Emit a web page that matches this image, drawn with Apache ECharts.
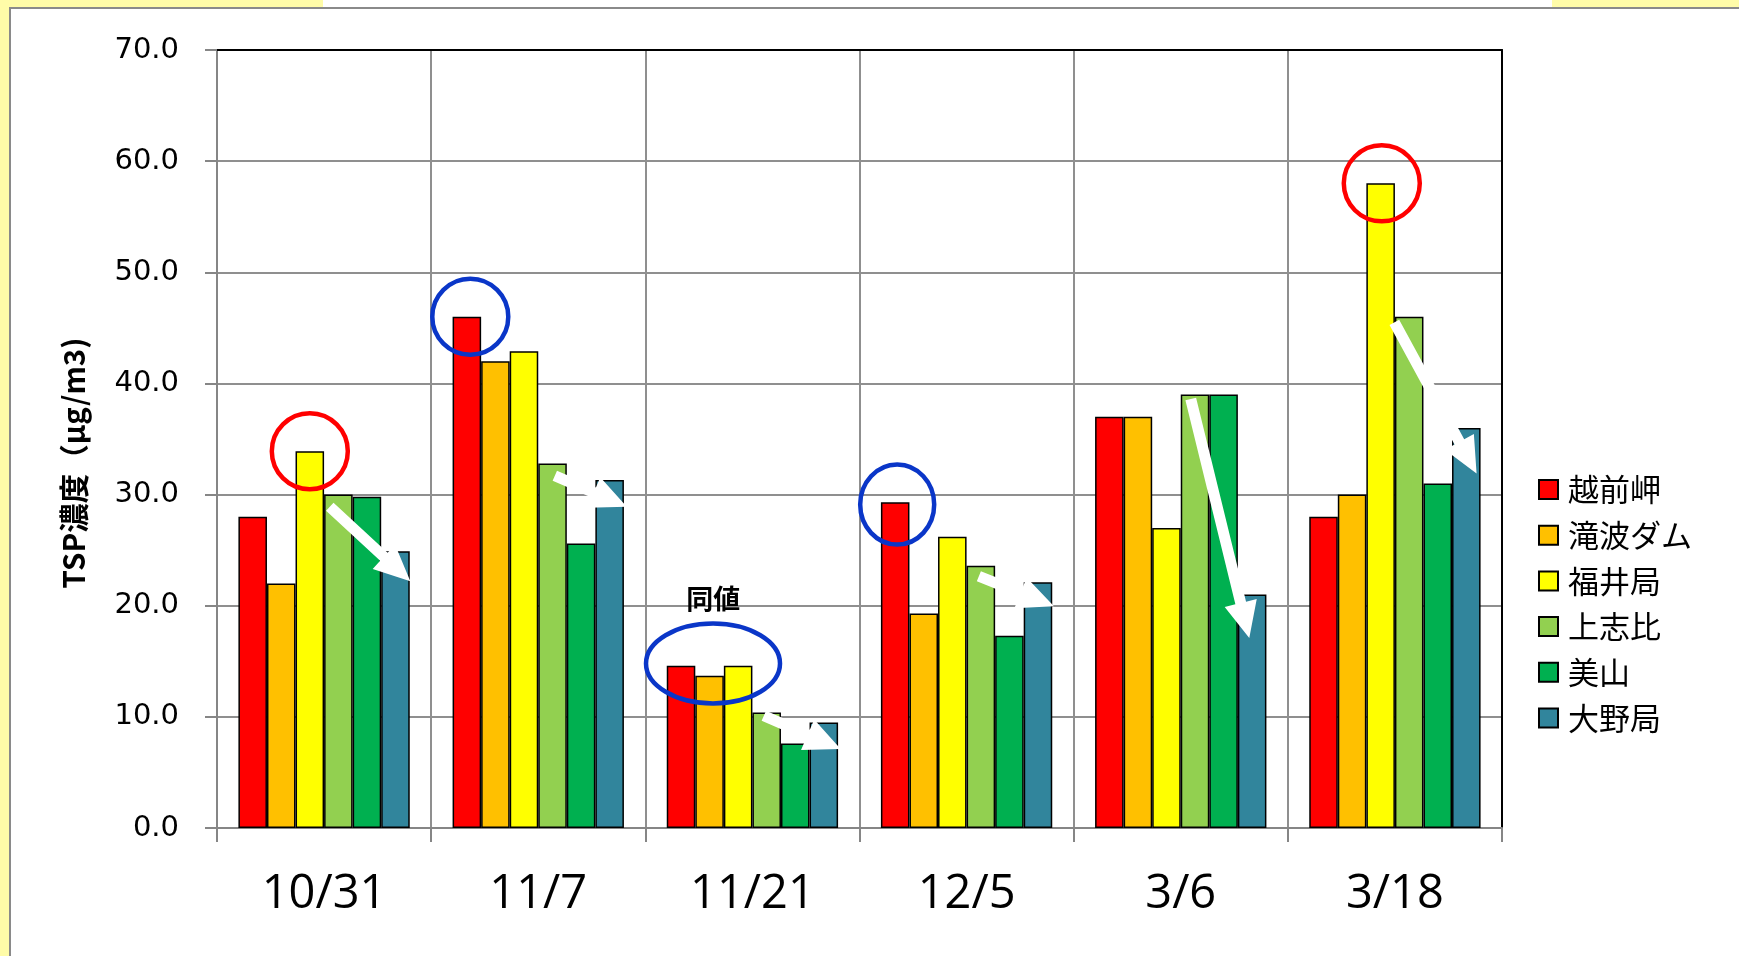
<!DOCTYPE html>
<html>
<head>
<meta charset="utf-8">
<script src="https://cdn.jsdelivr.net/npm/echarts@6/dist/echarts.min.js"></script>
<style>
  html, body { margin: 0; padding: 0; background: #ffffff; }
  #chart { width: 1739px; height: 956px; }
</style>
</head>
<body>
<div id="chart"></div>
<script>
// Sampling dates (category axis)
const dates = ['10/31', '11/7', '11/21', '12/5', '3/6', '3/18'];

// Monitoring stations (series names)
const stations = ['越前岬', '滝波ダム', '福井局', '上志比', '美山', '大野局'];

// TSP concentration per station, one value per date (µg/m3)
const echizenMisaki = [28.0, 46.0, 14.6, 29.3, 37.0, 28.0];
const takinamiDam   = [22.0, 42.0, 13.7, 19.3, 37.0, 30.0];
const fukuiKyoku    = [33.9, 42.9, 14.6, 26.2, 27.0, 58.0];
const kamishihi     = [30.0, 32.8, 10.4, 23.6, 39.0, 46.0];
const miyama        = [29.8, 25.6,  7.6, 17.3, 39.0, 31.0];
const onoKyoku      = [24.9, 31.3,  9.5, 22.1, 21.0, 36.0];

const stationValues = [echizenMisaki, takinamiDam, fukuiKyoku, kamishihi, miyama, onoKyoku];

// Value axis range
const yMin = 0;
const yMax = 70;
const yStep = 10;

const yAxisTitle = 'TSP濃度（μg/m3)';
const sameValueNote = '同値';

// Station colours
const stationColors = ['#FF0000', '#FFC000', '#FFFF00', '#92D050', '#00B050', '#31859C'];

// Highlight rings: [date index, bar slot (0..6 across the group), value, rx, ry, colour]
const rings = [
  [0, 2.50, 33.9, 38, 38, '#FF0000'],
  [1, 0.62, 46.0, 38, 38, '#0A36C8'],
  [2, 1.62, 14.8, 67, 40, '#0A36C8'],
  [3, 0.57, 29.1, 37, 40, '#0A36C8'],
  [5, 2.54, 58.0, 38, 38, '#FF0000']
];

// Trend arrows: [date index, tail slot, tail value, tip slot, tip value]
const arrows = [
  [0, 3.20, 28.9, 6.02, 22.2],
  [1, 3.58, 31.7, 6.10, 28.9],
  [2, 3.40, 10.1, 6.09, 7.1],
  [3, 3.43, 22.65, 6.06, 19.95],
  [4, 3.35, 38.6, 5.40, 17.1],
  [5, 2.98, 45.5, 5.86, 31.9]
];

// Note placed above the 11/21 group: [date index, slot, value]
const notePos = [2, 1.63, 20.6];

const chart = echarts.init(document.getElementById('chart'), null, { renderer: 'canvas' });

const gridSpec = { left: 217, right: 237, top: 50, bottom: 128 };
const barGroupFrac = 0.8;

const series = stations.map((name, i) => ({
  name: name,
  type: 'bar',
  data: stationValues[i],
  barGap: '0%',
  barCategoryGap: '20%',
  itemStyle: {
    color: stationColors[i],
    borderColor: '#000000',
    borderWidth: 1.5
  },
  emphasis: { disabled: true },
  z: 3
}));

const frameGraphics = [
  { type: 'rect', shape: { x: 0, y: 0, width: 9, height: 956 }, style: { fill: '#FFFCA8' }, z: 1, silent: true },
  { type: 'rect', shape: { x: 0, y: 0, width: 323, height: 7 }, style: { fill: '#FFFCA8' }, z: 1, silent: true },
  { type: 'rect', shape: { x: 1552, y: 0, width: 187, height: 7 }, style: { fill: '#FFFCA8' }, z: 1, silent: true },
  { type: 'line', shape: { x1: 9, y1: 8, x2: 1739, y2: 8 }, style: { stroke: '#8A8A8A', lineWidth: 2 }, z: 2, silent: true },
  { type: 'line', shape: { x1: 10, y1: 8, x2: 10, y2: 956 }, style: { stroke: '#8A8A8A', lineWidth: 2 }, z: 2, silent: true }
];

chart.setOption({
  animation: false,
  backgroundColor: '#ffffff',
  textStyle: { fontFamily: 'Noto Sans CJK JP' },
  grid: gridSpec,
  legend: {
    orient: 'vertical',
    left: 1533,
    top: 469,
    itemWidth: 19,
    itemHeight: 19,
    itemGap: 14.7,
    icon: 'rect',
    data: stations,
    textStyle: {
      fontFamily: 'Noto Sans CJK JP',
      fontSize: 31,
      color: '#000000',
      lineHeight: 31,
      padding: [0, 0, 0, 5]
    }
  },
  xAxis: [
    {
      type: 'category',
      data: dates,
      axisLine: { show: true, lineStyle: { color: '#868686', width: 2 } },
      axisTick: { show: true, length: 14, lineStyle: { color: '#868686', width: 2 } },
      splitLine: { show: true, lineStyle: { color: '#8F8F8F', width: 2 } },
      axisLabel: {
        margin: 43,
        fontFamily: 'Open Sans',
        fontSize: 47,
        color: '#000000'
      }
    },
    {
      type: 'category',
      position: 'top',
      data: dates,
      axisLine: { show: true, onZero: false, lineStyle: { color: '#000000', width: 2 } },
      axisTick: { show: false },
      axisLabel: { show: false },
      splitLine: { show: false }
    }
  ],
  yAxis: [
    {
      type: 'value',
      min: yMin,
      max: yMax,
      interval: yStep,
      name: yAxisTitle,
      nameLocation: 'middle',
      nameRotate: 90,
      nameGap: 128,
      nameTextStyle: {
        fontFamily: 'Noto Sans CJK JP',
        fontWeight: 'bold',
        fontSize: 29.5,
        color: '#000000',
        padding: [0, 48, 0, 0]
      },
      axisLine: { show: true, lineStyle: { color: '#868686', width: 2 } },
      axisTick: { show: true, length: 12, lineStyle: { color: '#868686', width: 2 } },
      splitLine: { show: true, lineStyle: { color: '#8F8F8F', width: 2 } },
      axisLabel: {
        margin: 38,
        fontFamily: 'DejaVu Sans',
        fontSize: 29,
        color: '#000000',
        formatter: v => v.toFixed(1)
      }
    },
    {
      type: 'value',
      position: 'right',
      min: yMin,
      max: yMax,
      interval: yStep,
      axisLine: { show: true, onZero: false, lineStyle: { color: '#000000', width: 2 } },
      axisTick: { show: false },
      axisLabel: { show: false },
      splitLine: { show: false }
    }
  ],
  series: series,
  graphic: frameGraphics
});

// Position of a point inside a date group: slot 0 is the left edge of the first bar,
// slot 6 the right edge of the last bar.
function slotPoint(catIndex, slot, value) {
  const cx = chart.convertToPixel({ xAxisIndex: 0 }, catIndex);
  const y = chart.convertToPixel({ yAxisIndex: 0 }, value);
  const x0 = chart.convertToPixel({ xAxisIndex: 0 }, 0);
  const x1 = chart.convertToPixel({ xAxisIndex: 0 }, 1);
  const band = x1 - x0;
  const barW = band * barGroupFrac / stations.length;
  const left = cx - band * barGroupFrac / 2;
  return [left + slot * barW, y];
}

function arrowPolygon(tail, tip, shaftW, headW, headL) {
  const dx = tip[0] - tail[0];
  const dy = tip[1] - tail[1];
  const len = Math.sqrt(dx * dx + dy * dy);
  const ux = dx / len, uy = dy / len;
  const px = -uy, py = ux;
  const bx = tip[0] - ux * headL, by = tip[1] - uy * headL;
  const hs = shaftW / 2, hh = headW / 2;
  return [
    [tail[0] + px * hs, tail[1] + py * hs],
    [bx + px * hs, by + py * hs],
    [bx + px * hh, by + py * hh],
    [tip[0], tip[1]],
    [bx - px * hh, by - py * hh],
    [bx - px * hs, by - py * hs],
    [tail[0] - px * hs, tail[1] - py * hs]
  ];
}

const overlay = [];

arrows.forEach(a => {
  const tail = slotPoint(a[0], a[1], a[2]);
  const tip = slotPoint(a[0], a[3], a[4]);
  overlay.push({
    type: 'polygon',
    shape: { points: arrowPolygon(tail, tip, 11, 33, 36) },
    style: { fill: '#FFFFFF' },
    z: 50,
    silent: true
  });
});

rings.forEach(r => {
  const c = slotPoint(r[0], r[1], r[2]);
  overlay.push({
    type: 'ellipse',
    shape: { cx: c[0], cy: c[1], rx: r[3], ry: r[4] },
    style: { fill: null, stroke: r[5], lineWidth: 4.5 },
    z: 60,
    silent: true
  });
});

const np = slotPoint(notePos[0], notePos[1], notePos[2]);
overlay.push({
  type: 'text',
  x: np[0],
  y: np[1],
  style: {
    text: sameValueNote,
    fontFamily: 'Noto Sans CJK JP',
    fontWeight: 'bold',
    fontSize: 27,
    fill: '#000000',
    align: 'center',
    verticalAlign: 'middle'
  },
  z: 60,
  silent: true
});

chart.setOption({ graphic: frameGraphics.concat(overlay) });
</script>
</body>
</html>
